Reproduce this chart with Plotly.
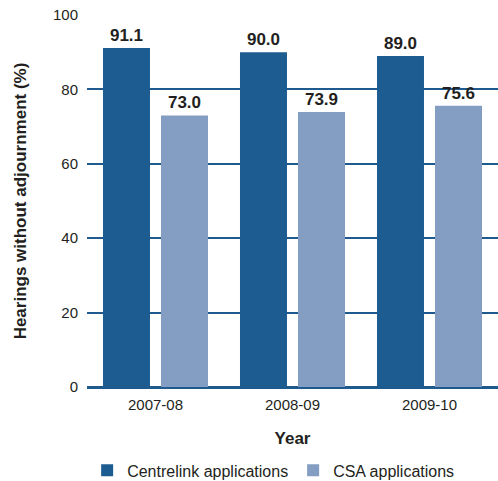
import plotly.graph_objects as go

years = ["2007-08", "2008-09", "2009-10"]
centrelink = [91.1, 90.0, 89.0]
csa = [73.0, 73.9, 75.6]
y_ticks = [0, 20, 40, 60, 80, 100]

dark_blue = "#1d5c91"
light_blue = "#839ec2"
grid_blue = "#1f5a8f"
text_col = "#231f20"

fig = go.Figure()
fig.add_trace(go.Bar(
    x=years, y=centrelink, name="Centrelink applications",
    marker=dict(color=dark_blue, line=dict(width=0)),
    text=[f"{v:.1f}" for v in centrelink], textposition="outside",
    textfont=dict(size=17, color=text_col, family="Liberation Sans", weight="bold"),
    cliponaxis=False,
))
fig.add_trace(go.Bar(
    x=years, y=csa, name="CSA applications",
    marker=dict(color=light_blue, line=dict(width=0)),
    text=[f"{v:.1f}" for v in csa], textposition="outside",
    textfont=dict(size=17, color=text_col, family="Liberation Sans", weight="bold"),
    cliponaxis=False,
))

fig.update_layout(
    width=498, height=481,
    margin=dict(l=87, r=0, t=15, b=94, autoexpand=False),
    paper_bgcolor="white", plot_bgcolor="white",
    font=dict(family="Liberation Sans, Arial, sans-serif", size=14, color=text_col),
    barmode="group", bargap=0.153, bargroupgap=0.19,
    showlegend=True,
    legend=dict(orientation="h", xref="container", x=0.175, xanchor="left",
                yref="container", y=0.022, yanchor="middle",
                font=dict(size=16, color=text_col), itemwidth=30,
                traceorder="normal"),
)
fig.update_xaxes(
    type="category",
    showgrid=False, showline=False, ticks="", ticklabelstandoff=7,
    tickfont=dict(size=15, color=text_col),
    title=dict(text="<b>Year</b>", font=dict(size=17, color=text_col), standoff=20),
)
fig.update_yaxes(
    range=[0, 100], tickvals=y_ticks, showgrid=True, gridcolor=grid_blue, gridwidth=1.5,
    zeroline=True, zerolinecolor=grid_blue, zerolinewidth=2.5,
    showline=False, ticks="", ticklabelstandoff=8,
    tickfont=dict(size=15, color=text_col),
    title=dict(text="<b>Hearings without adjournment (%)</b>",
               font=dict(size=17, color=text_col), standoff=22),
)

fig.write_html("out.html")
